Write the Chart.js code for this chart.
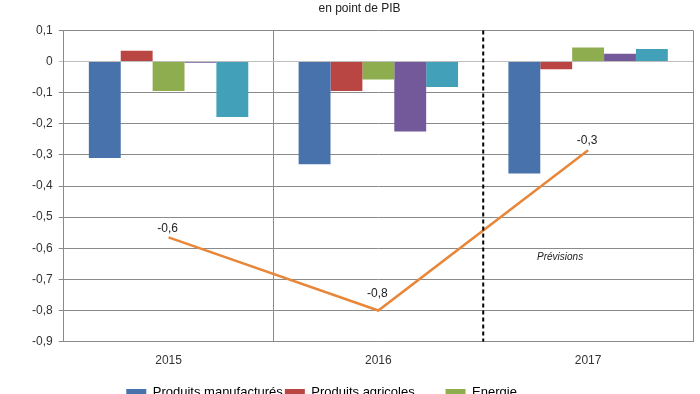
<!DOCTYPE html>
<html><head><meta charset="utf-8">
<script src="https://cdn.jsdelivr.net/npm/chart.js@4/dist/chart.umd.min.js"></script>
<style>html,body{margin:0;padding:0;overflow:hidden;background:#fff}#wrap{width:700px;height:409px;position:relative}</style>
</head><body><div id="wrap"><canvas id="c"></canvas></div>
<script>
const categories = ['2015', '2016', '2017'];
const seriesNames = ['Produits manufacturés', 'Produits agricoles', 'Energie', 'Services', 'Autres', 'Solde total'];
const manufactures = [-0.31, -0.33, -0.36];
const agricoles = [0.035, -0.095, -0.025];
const energie = [-0.095, -0.058, 0.045];
const services = [-0.004, -0.225, 0.025];
const autres = [-0.178, -0.082, 0.04];
const solde = [-0.565, -0.8, -0.285];
const soldeLabels = ['-0,6', '-0,8', '-0,3'];
const yMin = -0.9, yMax = 0.1, yStep = 0.1;
const subtitle = 'en point de PIB';
const noteText = 'Prévisions';

const FONT = "'Liberation Sans', Arial, sans-serif";
const barColors = ['#4872AC', '#BA4643', '#8EAD4F', '#74599A', '#43A0B9'];
const barSeries = [manufactures, agricoles, energie, services, autres];

const datasets = barSeries.map((d, i) => ({
  type: 'bar', label: seriesNames[i], data: d,
  backgroundColor: barColors[i], borderWidth: 0,
  barPercentage: 1.0, categoryPercentage: 0.76, order: 2
}));
datasets.push({
  type: 'line', label: seriesNames[5], data: solde,
  borderColor: '#E8873A', backgroundColor: '#E8873A', borderWidth: 2.5,
  pointRadius: 0, tension: 0, order: 0
});

const labelOffsets = [-9, -17, -10];
const legendPad = ['', '        ', '                     '];
const extras = {
  id: 'extras',
  afterDatasetsDraw(chart) {
    const {ctx, chartArea, scales: {x, y}} = chart;
    const xs = (x.getPixelForValue(1) + x.getPixelForValue(2)) / 2;
    ctx.save();
    ctx.strokeStyle = '#000'; ctx.lineWidth = 2; ctx.setLineDash([4, 3]);
    ctx.beginPath(); ctx.moveTo(xs, chartArea.top); ctx.lineTo(xs, chartArea.bottom); ctx.stroke();
    ctx.restore();
    const meta = chart.getDatasetMeta(5);
    ctx.save();
    ctx.font = '12px ' + FONT; ctx.fillStyle = '#222';
    ctx.textAlign = 'center'; ctx.textBaseline = 'middle';
    meta.data.forEach((p, i) => ctx.fillText(soldeLabels[i], p.x - 1, p.y + labelOffsets[i]));
    ctx.font = 'italic 10px ' + FONT;
    ctx.fillText(noteText, x.getPixelForValue(2) - 28, y.getPixelForValue(-0.63));
    ctx.restore();
  }
};

new Chart(document.getElementById('c'), {
  data: {labels: categories, datasets},
  options: {
    responsive: true, maintainAspectRatio: false, animation: false,
    layout: {padding: {left: 26, right: 7, top: 0, bottom: 0}},
    plugins: {
      tooltip: {enabled: false},
      title: {display: true, text: subtitle, color: '#222', font: {family: FONT, size: 12, weight: 'normal'}, padding: {top: 1, bottom: 15}},
      legend: {
        position: 'bottom',
        labels: {
          font: {family: FONT, size: 13}, color: '#222', boxWidth: 20, boxHeight: 7, padding: 2,
          filter: (item) => item.datasetIndex < 3,
          generateLabels: (chart) => chart.data.datasets.map((ds, i) => ({
            text: ds.label + (legendPad[i] || ''), fillStyle: ds.backgroundColor, strokeStyle: ds.backgroundColor,
            lineWidth: 0, datasetIndex: i, hidden: false
          }))
        }
      }
    },
    scales: {
      x: {
        offset: true,
        grid: {offset: true, drawTicks: false, color: (c) => c.index === 2 ? 'rgba(0,0,0,0)' : '#8a8a8a'},
        border: {color: '#8a8a8a'},
        ticks: {font: {family: FONT, size: 12}, color: '#333', padding: 12},
        afterFit: (s) => { s.height += 4; }
      },
      y: {
        min: yMin, max: yMax,
        grid: {color: (c) => c.tick && Math.abs(c.tick.value) < 1e-9 ? '#bdbdbd' : '#8a8a8a', tickLength: 5},
        border: {color: '#8a8a8a'},
        ticks: {
          stepSize: yStep, font: {family: FONT, size: 12}, color: '#333', padding: 6,
          callback: (v) => Math.abs(v) < 1e-9 ? '0' : v.toFixed(1).replace('.', ',')
        }
      }
    }
  },
  plugins: [extras]
});
</script>
</body></html>
